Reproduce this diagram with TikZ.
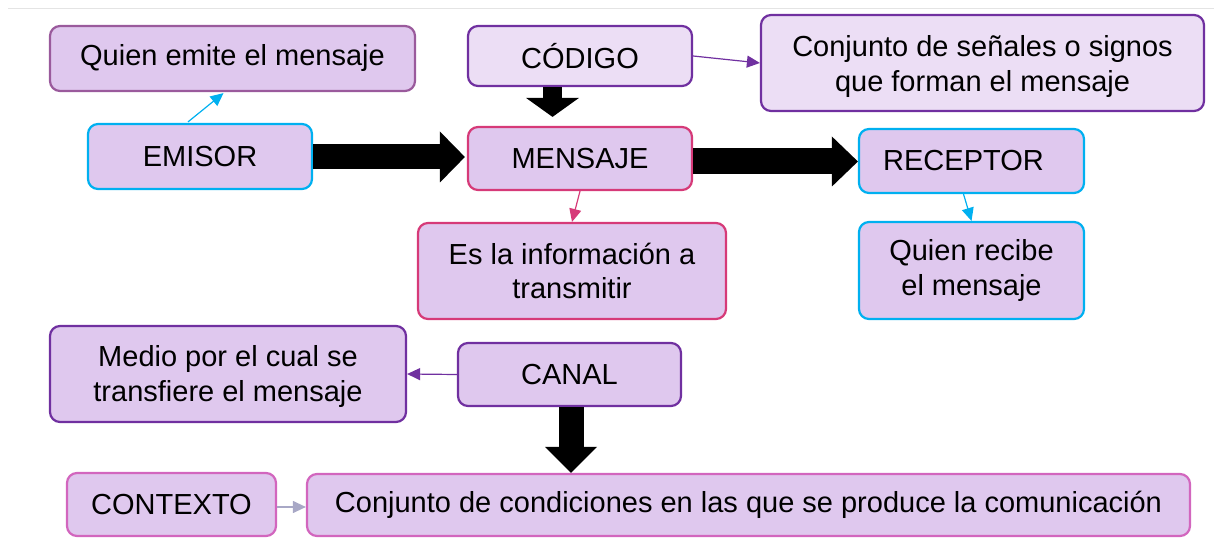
\documentclass[tikz,border=0pt]{standalone}
\usepackage{fontspec}
\setmainfont{Liberation Sans}
\usetikzlibrary{arrows.meta,calc}
\definecolor{lav}{HTML}{DFC8EE}
\definecolor{lavlight}{HTML}{ECDEF5}
\definecolor{cyanb}{HTML}{00B0F0}
\definecolor{purp}{HTML}{7030A0}
\definecolor{mpurp}{HTML}{9A5A9C}
\definecolor{crim}{HTML}{D63A78}
\definecolor{orch}{HTML}{D266BE}
\definecolor{grayarr}{HTML}{A8A8C6}
\definecolor{topline}{HTML}{E4E4E4}
\begin{document}
\begin{tikzpicture}[x=1pt,y=-1pt,
  box/.style={draw, rounded corners=10pt, line width=2.2pt, fill=lav, inner sep=0pt,
    align=center, text=black, font=\fontsize{29}{34.5}\selectfont},
  boxsize/.style 2 args={minimum width=#1, minimum height=#2},
  thinarrow/.style={line width=1.2pt, -{Triangle[length=13pt,width=12pt]}},
  bigarrow/.style n args={3}{line width=#1, black,
    -{Triangle[length=#3,width=#2,line width=0pt]}}]
\useasboundingbox (0,0) rectangle (1214,545);
\draw[topline, line width=1pt] (8,9) -- (1214,9);

\node[box, draw=mpurp, boxsize={365pt}{65pt}] (quienE) at (232.5,58.5) {Quien emite el mensaje};
\node[box, draw=cyanb, boxsize={224pt}{65pt}] (emisor) at (200,156.5) {EMISOR};
\node[box, draw=purp, fill=lavlight, boxsize={224pt}{60pt}] (codigo) at (580,56) {CÓDIGO};
\node[box, draw=purp, fill=lavlight, boxsize={443pt}{96pt}, text height=63pt] (senales) at (982.5,63) {Conjunto de señales o signos\\que forman el mensaje};
\node[box, draw=crim, boxsize={224pt}{63pt}] (mensaje) at (580,158.5) {MENSAJE};
\node[box, draw=cyanb, boxsize={225pt}{64pt}] (receptor) at (971.5,161) {RECEPTOR\hspace*{16pt}};
\node[box, draw=cyanb, boxsize={225pt}{97pt}] (recibe) at (971.5,270.5) {Quien recibe\\el mensaje};
\node[box, draw=crim, boxsize={308pt}{96pt}] (info) at (572,271) {Es la información a\\transmitir};
\node[box, draw=purp, boxsize={356pt}{96pt}, text height=61pt] (medio) at (228,374) {Medio por el cual se\\transfiere el mensaje};
\node[box, draw=purp, boxsize={223pt}{63pt}] (canal) at (569.5,374.5) {CANAL};
\node[box, draw=orch, boxsize={209pt}{63pt}] (contexto) at (171.5,504.5) {CONTEXTO};
\node[box, draw=orch, boxsize={883pt}{62pt}] (condiciones) at (748.5,505) {Conjunto de condiciones en las que se produce la comunicación};

% thin arrows
\draw[thinarrow, cyanb] ($(emisor.north)+(-12,-1)$) -- ($(quienE.south)+(-9,1)$);
\draw[thinarrow, purp] (codigo.east) -- (senales.west);
\draw[thinarrow, crim] (mensaje.south) -- (info.north);
\draw[thinarrow, cyanb] ($(receptor.south)+(-8,0)$) -- (recibe.north);
\draw[thinarrow, purp] (canal.west) -- (medio.east);
\draw[thinarrow, grayarr] ($(contexto.east)+(0,2.5)$) -- ($(condiciones.west)+(0,2)$);

% block arrows
\draw[bigarrow={25pt}{51pt}{25pt}] ($(emisor.east)+(0,0.5)$) -- ($(mensaje.west)+(-2,-1.5)$);
\draw[bigarrow={26pt}{50pt}{26pt}] ($(mensaje.east)+(0,3)$) -- ($(receptor.west)+(0,0.5)$);
\draw[bigarrow={19pt}{53pt}{19pt}] ($(codigo.south)+(-27.5,0)$) -- ($(mensaje.north)+(-27.5,-9)$);
\draw[bigarrow={25pt}{52pt}{26pt}] ($(canal.south)+(1.5,0)$) -- ($(canal.south |- condiciones.north)+(1.5,0)$);
\end{tikzpicture}
\end{document}
